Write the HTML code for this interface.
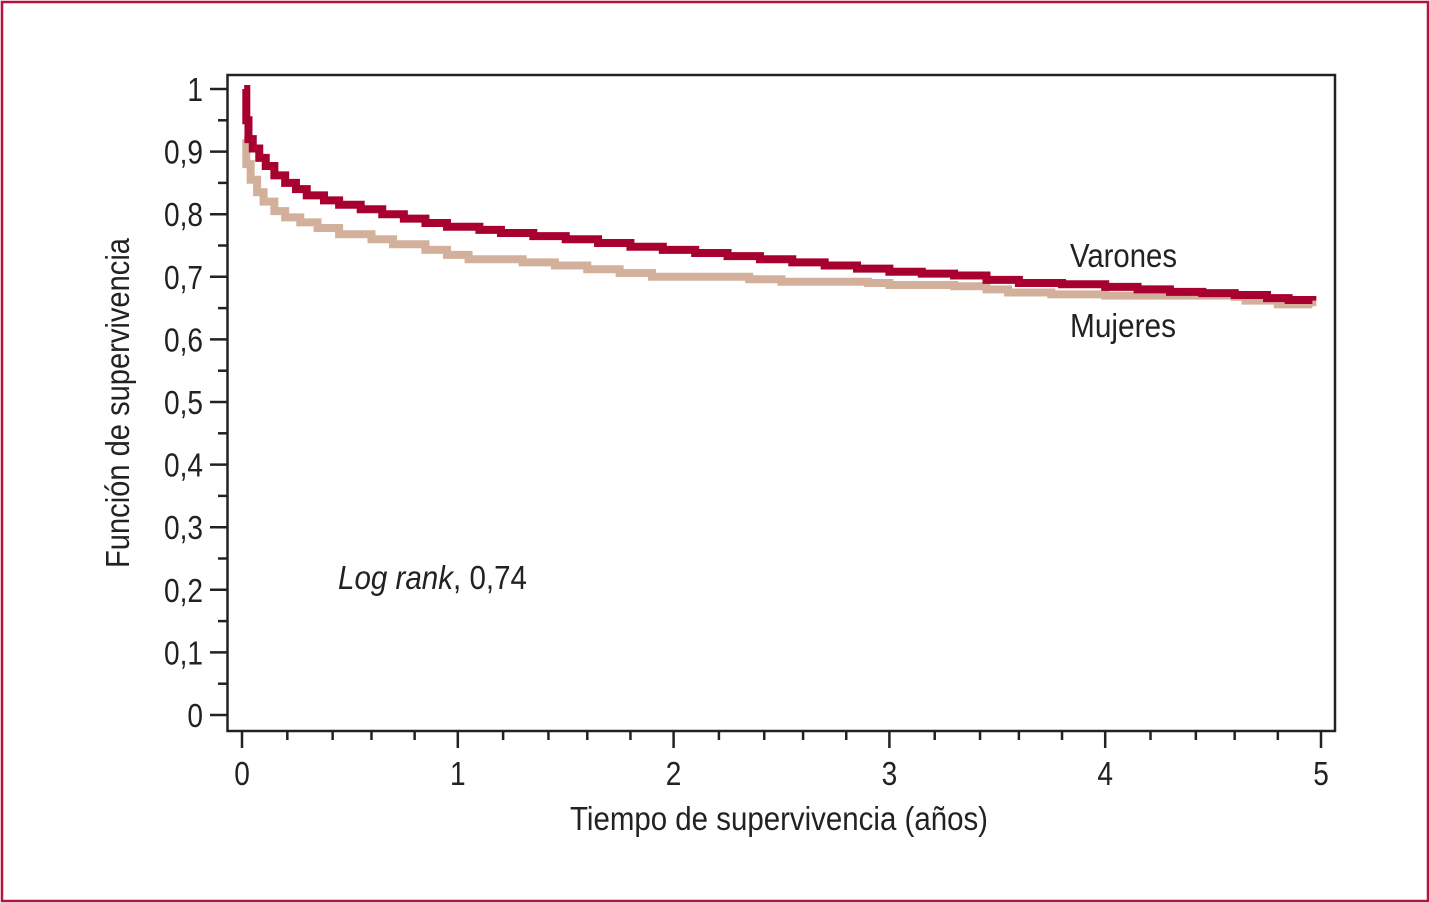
<!DOCTYPE html>
<html><head><meta charset="utf-8"><style>
html,body{margin:0;padding:0;background:#fff;}
svg{display:block;font-family:"Liberation Sans Narrow","Liberation Sans",sans-serif;}
</style></head><body>
<svg id="chart" width="1430" height="903" viewBox="0 0 1430 903" xmlns="http://www.w3.org/2000/svg">
<rect x="2" y="2" width="1426" height="899" fill="#fff" stroke="#b5123e" stroke-width="2.5"/>
<rect x="227.5" y="75" width="1107.5" height="656" fill="none" stroke="#222" stroke-width="2.5"/>
<g id="axes"></g>
<g id="series"></g>
<text transform="translate(129,403) rotate(-90)" text-anchor="middle" font-size="33" fill="#222" textLength="330" lengthAdjust="spacingAndGlyphs">Función de supervivencia</text>
<text x="570" y="830" font-size="33" fill="#222" textLength="418" lengthAdjust="spacingAndGlyphs">Tiempo de supervivencia (años)</text>
<text x="338" y="589" font-size="33" fill="#222" textLength="189" lengthAdjust="spacingAndGlyphs"><tspan font-style="italic">Log rank</tspan>, 0,74</text>
<text x="1070" y="267" font-size="33" fill="#222" textLength="107" lengthAdjust="spacingAndGlyphs">Varones</text>
<text x="1070" y="337" font-size="33" fill="#222" textLength="106" lengthAdjust="spacingAndGlyphs">Mujeres</text>
</svg>
<script>
const xTicks=[0,1,2,3,4,5];
const xMinor=[0.21,0.42,0.6,0.8];
const yTicks=[0,0.1,0.2,0.3,0.4,0.5,0.6,0.7,0.8,0.9,1];
const yTickLabels=["0","0,1","0,2","0,3","0,4","0,5","0,6","0,7","0,8","0,9","1"];
const varonesT=[0.01,0.02,0.03,0.05,0.08,0.11,0.15,0.2,0.25,0.3,0.38,0.45,0.55,0.65,0.75,0.85,0.95,1.1,1.2,1.35,1.5,1.65,1.8,1.95,2.1,2.25,2.4,2.55,2.7,2.85,3.0,3.15,3.3,3.45,3.6,3.8,4.0,4.15,4.3,4.45,4.6,4.75,4.85,4.96];
const varonesS=[1.0,0.95,0.92,0.905,0.89,0.877,0.862,0.85,0.84,0.83,0.822,0.815,0.808,0.80,0.793,0.786,0.78,0.775,0.77,0.765,0.76,0.754,0.748,0.743,0.738,0.733,0.728,0.723,0.718,0.713,0.708,0.705,0.702,0.695,0.69,0.688,0.684,0.68,0.676,0.674,0.671,0.666,0.663,0.662];
const mujeresT=[0.01,0.02,0.04,0.07,0.1,0.15,0.2,0.27,0.35,0.45,0.6,0.7,0.85,0.95,1.05,1.3,1.45,1.6,1.75,1.9,2.2,2.35,2.5,2.9,3.0,3.3,3.45,3.55,3.75,4.0,4.6,4.65,4.8,4.96];
const mujeresS=[0.92,0.88,0.855,0.835,0.82,0.805,0.795,0.787,0.778,0.768,0.76,0.752,0.743,0.735,0.728,0.723,0.718,0.712,0.706,0.70,0.70,0.696,0.692,0.690,0.687,0.685,0.68,0.675,0.672,0.670,0.668,0.662,0.656,0.653];
const X=t=>242+t*215.8;
const Y=v=>715-v*626;
const NS="http://www.w3.org/2000/svg";
const axes=document.getElementById('axes');
function mk(tag,attrs,parent){const e=document.createElementNS(NS,tag);for(const k in attrs)e.setAttribute(k,attrs[k]);parent.appendChild(e);return e;}
xTicks.forEach(t=>{
  const l=mk('line',{x1:X(t),x2:X(t),y1:731,y2:748,stroke:'#222','stroke-width':2.5},axes);
  
  
  const tx=mk('text',{x:X(t),y:785,'text-anchor':'middle','font-size':33,fill:'#222',transform:'translate('+X(t)+',0) scale(0.85,1) translate('+(-X(t))+',0)'},axes);
  tx.textContent=String(t);
  
  
  if(t<5) xMinor.forEach(m=>{
    const ml=mk('line',{x1:X(t+m),x2:X(t+m),y1:731,y2:740,stroke:'#222','stroke-width':2.5},axes);
    
    
  });
});
yTicks.forEach((v,i)=>{
  const l=mk('line',{x1:210,x2:227,y1:Y(v),y2:Y(v),stroke:'#222','stroke-width':2.5},axes);
  
  
  const tx=mk('text',{x:203,y:Y(v)+12,'text-anchor':'end','font-size':33,fill:'#222',transform:'translate(203,0) scale(0.85,1) translate(-203,0)'},axes);
  tx.textContent=yTickLabels[i];
  
  
  if(i<yTicks.length-1){
    const ml=mk('line',{x1:218,x2:227,y1:Y(v+0.05),y2:Y(v+0.05),stroke:'#222','stroke-width':2.5},axes);
    
    
  }
});
function stepPath(T,S){
  let d='M'+X(T[0])+' '+Y(S[0]);
  for(let i=1;i<T.length;i++){d+=' H'+X(T[i])+' V'+Y(S[i]);}
  return d;
}
const series=document.getElementById('series');
const pm=mk('path',{d:stepPath(mujeresT,mujeresS),fill:'none',stroke:'#d2b09b','stroke-width':8},series);


const pv=mk('path',{d:stepPath(varonesT,varonesS),fill:'none',stroke:'#a8002f','stroke-width':8},series);


</script>
</body></html>
